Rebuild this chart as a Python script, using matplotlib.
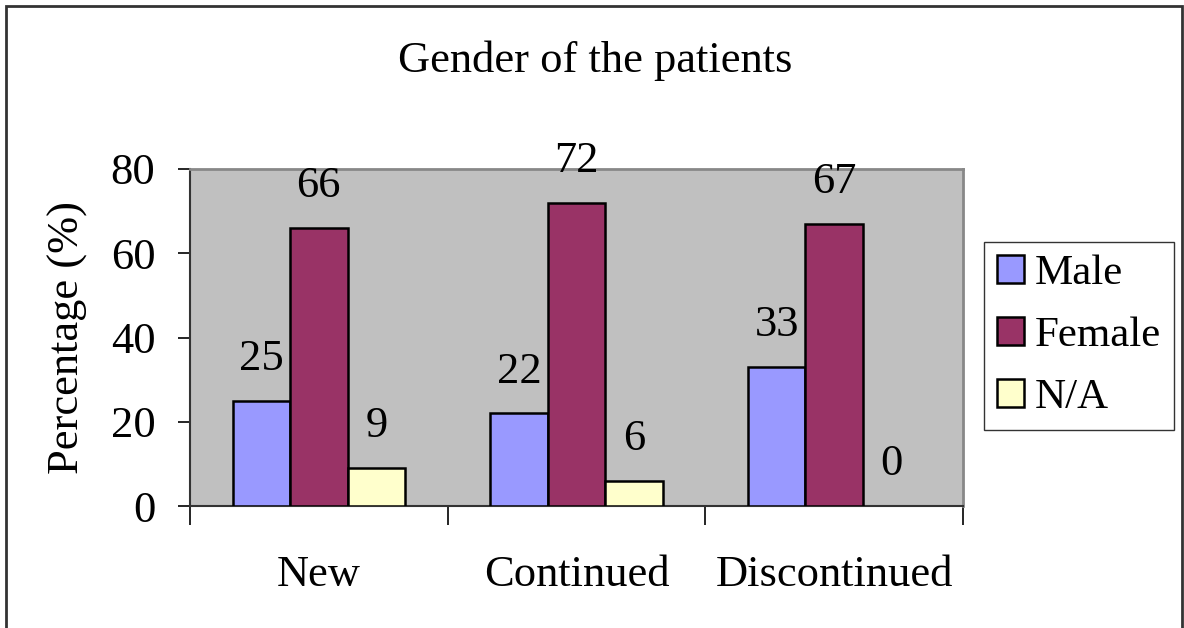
import numpy as np
import matplotlib.pyplot as plt
from matplotlib.patches import Rectangle

categories = ['New', 'Continued', 'Discontinued']
series = ['Male', 'Female', 'N/A']
male = [25, 22, 33]
female = [66, 72, 67]
na = [9, 6, 0]
colors = ['#9999FF', '#993366', '#FFFFCC']

plt.rcParams['font.family'] = ['Liberation Serif', 'DejaVu Serif']
FS = 32

fig = plt.figure(figsize=(11.84, 6.28), dpi=100)
W, H = 1184, 628

# outer chart frame
fig.patches.append(Rectangle((6 / W, -0.05), (1182 - 6) / W, 1.05 - 6 / H,
                             transform=fig.transFigure, fill=False,
                             edgecolor='#333333', linewidth=2))

ax = fig.add_axes([190 / W, 1 - 506 / H, (963 - 190) / W, (506 - 169) / H])
ax.set_facecolor('#C0C0C0')

x = np.arange(len(categories))
w = 0.223
for i, (name, vals) in enumerate(zip(series, [male, female, na])):
    xs = x + (i - 1) * w
    lw = [1.8 if v > 0 else 0 for v in vals]
    ax.bar(xs, vals, w, color=colors[i], edgecolor='black', linewidth=lw,
           label=name, zorder=3)
    for xi, v in zip(xs, vals):
        ax.annotate(str(v), (xi, v), xytext=(0, 30), textcoords='offset points',
                    ha='center', va='center', fontsize=FS)

ax.set_xlim(-0.5, 2.5)
ax.set_ylim(0, 80)
ax.set_yticks([0, 20, 40, 60, 80])
ax.tick_params(axis='y', labelsize=FS, length=9, width=1.2, direction='out', pad=16)
ax.set_xticks([-0.5, 0.5, 1.5, 2.5], minor=False)
ax.set_xticklabels([])
ax.tick_params(axis='x', length=14, width=1.2, direction='out')
ax.set_xticks(x, minor=True)
ax.set_xticklabels(categories, minor=True, fontsize=FS)
ax.tick_params(axis='x', which='minor', length=0, pad=35)

for s in ['top', 'right']:
    ax.spines[s].set_color('#888888')
    ax.spines[s].set_linewidth(2)
for s in ['left', 'bottom']:
    ax.spines[s].set_color('#333333')
    ax.spines[s].set_linewidth(1.5)

ax.set_ylabel('Percentage (%)', fontsize=FS, labelpad=16)
fig.text(595 / W, 1 - 61 / H, 'Gender of the patients', ha='center', va='center',
         fontsize=FS)

leg = ax.legend(loc='center left', bbox_to_anchor=(984 / W, 1 - 336 / H),
                bbox_transform=fig.transFigure, fontsize=31, frameon=True,
                fancybox=False, edgecolor='black', handlelength=0.62,
                handleheight=0.62, handletextpad=0.25, labelspacing=0.55,
                borderpad=0.3, borderaxespad=0)
leg.get_frame().set_linewidth(1)

fig.savefig('out.png', dpi=100)
